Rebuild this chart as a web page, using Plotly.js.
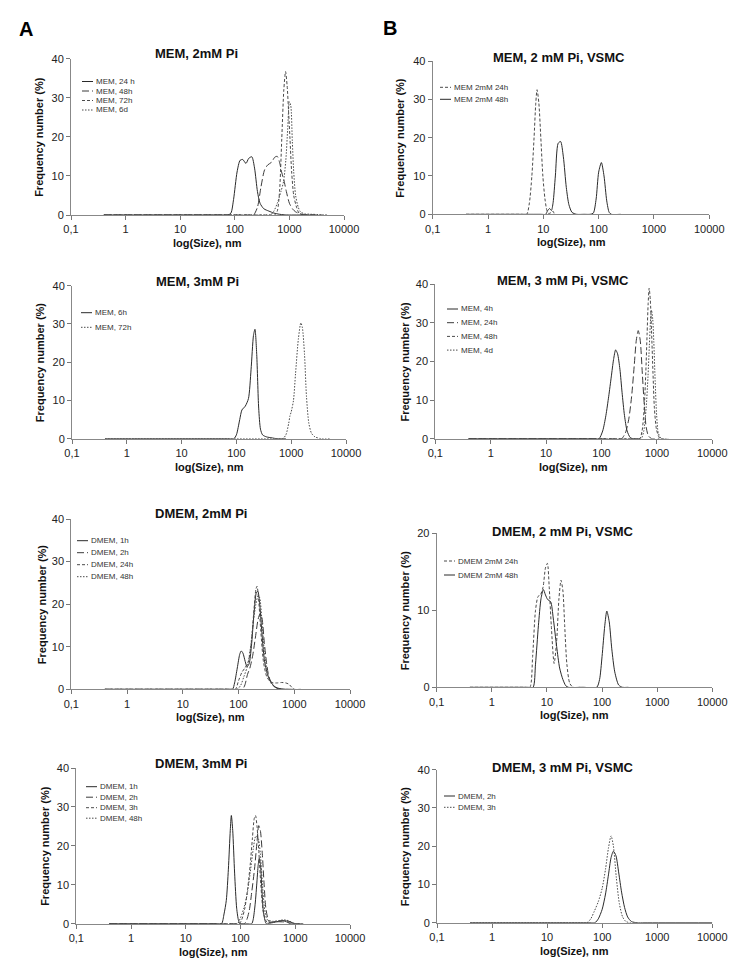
<!DOCTYPE html>
<html>
<head>
<meta charset="utf-8">
<script src="https://cdn.plot.ly/plotly-3.0.1.min.js"></script>
<style>html,body{margin:0;padding:0;background:#fff;}#chart{width:731px;height:959px;}</style>
</head>
<body>
<div id="chart"></div>
<script>
// ---------- tick labels ----------
const xTickVals = [0.1, 1, 10, 100, 1000, 10000];
const xTickText = ['0,1', '1', '10', '100', '1000', '10000'];
const yTickVals40 = [0, 10, 20, 30, 40];
const yTickVals20 = [0, 10, 20];

// ---------- panel titles ----------
const panelTitles = ['MEM, 2mM Pi', 'MEM, 3mM Pi', 'DMEM, 2mM Pi', 'DMEM, 3mM Pi',
  'MEM, 2 mM Pi, VSMC', 'MEM, 3 mM Pi, VSMC', 'DMEM, 2 mM Pi, VSMC', 'DMEM, 3 mM Pi, VSMC'];

// ---------- A1: MEM, 2mM Pi ----------
const a1Names = ['MEM, 24 h', 'MEM, 48h', 'MEM, 72h', 'MEM, 6d'];
const a1_24h_size = [0.4, 60, 75, 85, 95, 110, 125, 140, 160, 180, 205, 230, 260, 290, 340, 420, 520, 650, 800, 1000, 1500, 3000];
const a1_24h_freq = [0, 0, 0, 0.5, 4, 11, 14, 14.2, 13.2, 14.5, 14.9, 12, 6, 3, 1.6, 1, 0.5, 0.2, 0.05, 0, 0, 0];
const a1_48h_size = [0.4, 180, 220, 260, 300, 350, 400, 470, 540, 600, 660, 720, 790, 880, 1000, 1150, 1300, 1500, 1800, 2500, 4000];
const a1_48h_freq = [0, 0, 0, 2, 7, 11.5, 12.8, 13.5, 14.8, 15, 13.5, 11, 9, 6, 3, 1.5, 0.8, 0.4, 0.1, 0, 0];
const a1_72h_size = [0.4, 450, 540, 600, 660, 725, 790, 850, 910, 970, 1025, 1100, 1200, 1350, 1500, 1800, 3000];
const a1_72h_freq = [0, 0, 0, 1, 6, 19.5, 32, 36.7, 33, 26, 19.5, 11, 5, 2, 0.5, 0, 0];
const a1_6d_size = [0.4, 380, 450, 520, 600, 700, 780, 860, 930, 1000, 1060, 1130, 1200, 1300, 1450, 1600, 1900, 2500, 3500, 5000];
const a1_6d_freq = [0, 0, 0, 1, 3, 6, 8.5, 14, 22, 29, 28, 19, 11, 5, 2, 0.8, 0.3, 0.2, 0.1, 0];

// ---------- A2: MEM, 3mM Pi ----------
const a2Names = ['MEM, 6h', 'MEM, 72h'];
const a2_6h_size = [0.4, 70, 90, 100, 115, 126, 145, 166, 185, 205, 218, 235, 255, 275, 300, 350, 450, 550, 800];
const a2_6h_freq = [0, 0, 0, 1, 5, 7.5, 8.5, 10.5, 18, 27, 28.6, 22, 8, 2.5, 1, 0.5, 0.2, 0, 0];
const a2_72h_size = [0.4, 550, 700, 800, 900, 950, 1000, 1100, 1200, 1350, 1500, 1600, 1750, 1900, 2100, 2350, 2700, 3500, 5000];
const a2_72h_freq = [0, 0, 0, 1, 4, 6, 7, 10, 17, 26, 30.3, 29, 22, 11, 4, 1.4, 0.5, 0, 0];

// ---------- A3: DMEM, 2mM Pi ----------
const a3Names = ['DMEM, 1h', 'DMEM, 2h', 'DMEM, 24h', 'DMEM, 48h'];
const a3_1h_size = [0.4, 60, 78, 85, 95, 105, 112, 120, 132, 142, 155, 170, 190, 210, 222, 240, 260, 290, 330, 370, 430, 500, 700, 1000];
const a3_1h_freq = [0, 0, 0, 1.5, 5, 8.2, 9, 8.5, 6.5, 5.3, 6, 10, 18, 22.8, 23, 20, 14, 7, 3.5, 2, 0.8, 0.3, 0, 0];
const a3_2h_size = [0.4, 95, 118, 130, 145, 160, 180, 200, 225, 245, 265, 290, 320, 350, 400, 450, 550, 800];
const a3_2h_freq = [0, 0, 0, 1, 3.5, 5, 8, 12, 16.5, 17.8, 16.5, 11, 6, 3, 1.2, 0.5, 0, 0];
const a3_24h_size = [0.4, 70, 88, 100, 115, 130, 150, 170, 190, 205, 215, 230, 250, 280, 320, 370, 420, 500, 600, 700, 800, 900, 1000, 1300];
const a3_24h_freq = [0, 0, 0, 2, 4, 5, 6.5, 11, 19, 23.5, 24.2, 21, 14, 6.5, 3, 1.8, 1.5, 1.5, 1.6, 1.5, 1.2, 0.5, 0, 0];
const a3_48h_size = [0.4, 75, 95, 110, 125, 145, 165, 185, 205, 225, 240, 260, 290, 330, 380, 450, 600, 900];
const a3_48h_freq = [0, 0, 0, 1, 3, 5.5, 10, 16, 20, 22, 21.5, 17, 9, 4, 1.5, 0.5, 0, 0];

// ---------- A4: DMEM, 3mM Pi ----------
const a4Names = ['DMEM, 1h', 'DMEM, 2h', 'DMEM, 3h', 'DMEM, 48h'];
const a4_1h_size = [0.4, 35, 45, 50, 55, 60, 65, 68, 72, 78, 85, 92, 98, 130, 160, 170, 185, 200, 210, 220, 232, 245, 260, 280, 295, 400, 600, 800, 1000, 1400];
const a4_1h_freq = [0, 0, 0, 2.5, 6, 14, 24, 27.8, 24, 13, 4, 0.8, 0, 0, 0, 1, 5, 11, 15, 16.8, 15, 9, 3.5, 0.8, 0, 0.3, 0.8, 0.5, 0, 0];
const a4_2h_size = [0.4, 95, 118, 130, 145, 160, 180, 200, 215, 230, 250, 270, 290, 320, 345, 400, 500, 700, 900, 1200];
const a4_2h_freq = [0, 0, 0, 1, 3.5, 8, 14, 21, 25.2, 24, 18, 10, 4, 1, 0.3, 0.5, 0.5, 0.4, 0, 0];
const a4_3h_size = [0.4, 75, 95, 105, 120, 135, 150, 165, 178, 188, 200, 215, 235, 260, 285, 310, 400, 600, 800, 1100];
const a4_3h_freq = [0, 0, 0, 1, 4, 9, 15, 22, 27, 27.8, 25, 19, 10, 3, 1, 0.3, 0.5, 0.8, 0, 0];
const a4_48h_size = [0.4, 70, 88, 100, 115, 130, 150, 170, 190, 210, 230, 255, 280, 310, 400, 500, 650, 800, 950, 1300];
const a4_48h_freq = [0, 0, 0, 1.5, 4, 7, 13, 19, 22.5, 22, 18, 9, 3, 1, 0.6, 0.8, 1, 0.6, 0, 0];

// ---------- B1: MEM, 2 mM Pi, VSMC ----------
const b1Names = ['MEM 2mM 24h', 'MEM 2mM 48h'];
const b1_24h_size = [0.4, 4, 5, 5.6, 6.2, 6.8, 7.3, 7.7, 8.3, 9, 9.8, 10.7, 11.6, 12.5, 14, 15, 16, 20];
const b1_24h_freq = [0, 0, 0, 3, 10, 20, 29, 32.5, 29, 20, 10, 4, 1, 0.2, 0.5, 0.8, 0, 0];
const b1_48h_size = [0.4, 9, 11, 12, 13, 14, 15, 16.5, 18.5, 20.5, 23, 26, 29, 33, 40, 55, 70, 80, 90, 100, 112, 125, 140, 155, 170, 250];
const b1_48h_freq = [0, 0, 0, 1, 1.5, 1, 3, 10, 18.5, 19, 15, 7, 2.5, 0.5, 0, 0, 0, 0.3, 4, 11, 13.5, 10, 3.5, 0.5, 0, 0];

// ---------- B2: MEM, 3 mM Pi, VSMC ----------
const b2Names = ['MEM, 4h', 'MEM, 24h', 'MEM, 48h', 'MEM, 4d'];
const b2_4h_size = [0.4, 70, 90, 105, 120, 135, 150, 165, 180, 195, 215, 235, 260, 290, 330, 370, 500];
const b2_4h_freq = [0, 0, 0, 2, 6, 11, 16, 20.5, 23, 22, 18, 12, 6, 2, 0.3, 0, 0];
const b2_24h_size = [0.4, 180, 230, 270, 310, 350, 390, 425, 460, 500, 545, 590, 640, 700, 800, 1100];
const b2_24h_freq = [0, 0, 0, 1.5, 5, 11, 19, 25.5, 28, 25.5, 17, 9, 3, 0.8, 0, 0];
const b2_48h_size = [0.4, 400, 490, 540, 590, 630, 665, 695, 725, 760, 800, 850, 900, 980, 1080, 1150, 1500];
const b2_48h_freq = [0, 0, 0, 2, 8, 17, 27, 35, 39, 36, 28, 17, 8, 2.5, 0.5, 0, 0];
const b2_4d_size = [0.4, 420, 520, 580, 640, 690, 730, 770, 800, 840, 880, 930, 990, 1060, 1200, 1600];
const b2_4d_freq = [0, 0, 0, 2, 8, 16, 24, 31, 33.3, 31, 25, 15, 6, 1.5, 0, 0];

// ---------- B3: DMEM, 2 mM Pi, VSMC ----------
const b3Names = ['DMEM 2mM 24h', 'DMEM 2mM 48h'];
const b3_24h_size = [0.4, 4, 4.9, 5.5, 6.2, 6.9, 7.6, 8.5, 9.4, 10.2, 11, 12, 13.5, 15, 16.5, 18, 19.5, 21, 23, 26, 30, 40];
const b3_24h_freq = [0, 0, 0, 4, 10, 11.8, 12, 13, 15.5, 16.1, 13, 8, 3.1, 6, 11.5, 13.9, 12.5, 8, 3, 0.5, 0, 0];
const b3_48h_size = [0.4, 4.5, 5.6, 6.2, 7, 7.8, 8.6, 9.4, 10.3, 11.7, 13, 15, 17, 19.5, 22, 24.5, 45, 80, 90, 100, 112, 122, 135, 150, 170, 200, 234, 300];
const b3_48h_freq = [0, 0, 0, 3, 8, 11.5, 12.7, 12, 11.4, 11.1, 9, 5.3, 2.5, 1, 0.2, 0, 0, 0, 1, 4, 8, 9.9, 8.5, 5, 2, 0.3, 0, 0];

// ---------- B4: DMEM, 3 mM Pi, VSMC ----------
const b4Names = ['DMEM, 2h', 'DMEM, 3h'];
const b4_2h_size = [0.4, 60, 74, 85, 100, 115, 130, 145, 160, 178, 200, 225, 255, 290, 340, 425, 600, 10000];
const b4_2h_freq = [0, 0, 0, 1, 3.5, 7.5, 12.5, 17, 18.7, 17.5, 13, 8, 4, 1.5, 0.3, 0, 0, 0];
const b4_3h_size = [0.4, 42, 53, 62, 72, 85, 100, 115, 130, 145, 160, 180, 205, 235, 270, 316, 450];
const b4_3h_freq = [0, 0, 0, 1, 3, 5.5, 9, 14, 19.5, 22.7, 20, 12, 5, 1.5, 0.3, 0, 0];

// ================= drawing =================
const W = 731, H = 959;
const px = v => v / W;
const py = v => 1 - v / H;

const STY = {
  solid: {dash: 'solid', color: '#2a2a2a'},
  long:  {dash: '7px,3px', color: '#3a3a3a'},
  short: {dash: '3px,2px', color: '#4a4a4a'},
  dot:   {dash: '1.5px,1.5px', color: '#4a4a4a'}
};

// panel geometry (pixels): [x0, x1, yTop, yBottom]
const panels = [
  {box: [71, 344, 58.7, 215], ymax: 40, title: [196, 53], ytitle: 39,
   leg: {x: 82, y: 81.5, gap: 9.5},
   series: [[a1_24h_size, a1_24h_freq, a1Names[0], 'solid'], [a1_48h_size, a1_48h_freq, a1Names[1], 'long'],
            [a1_72h_size, a1_72h_freq, a1Names[2], 'short'], [a1_6d_size, a1_6d_freq, a1Names[3], 'dot']]},
  {box: [72, 346, 285.7, 438.7], ymax: 40, title: [197, 281], ytitle: 40,
   leg: {x: 81, y: 312.7, gap: 14.6},
   series: [[a2_6h_size, a2_6h_freq, a2Names[0], 'solid'], [a2_72h_size, a2_72h_freq, a2Names[1], 'dot']]},
  {box: [71.3, 350, 519, 689.3], ymax: 40, title: [201, 513], ytitle: 42,
   leg: {x: 77, y: 540.7, gap: 12},
   series: [[a3_1h_size, a3_1h_freq, a3Names[0], 'solid'], [a3_2h_size, a3_2h_freq, a3Names[1], 'long'],
            [a3_24h_size, a3_24h_freq, a3Names[2], 'short'], [a3_48h_size, a3_48h_freq, a3Names[3], 'dot']]},
  {box: [76.3, 350, 768, 923.7], ymax: 40, title: [201, 763], ytitle: 45,
   leg: {x: 86, y: 786.7, gap: 10.5},
   series: [[a4_1h_size, a4_1h_freq, a4Names[0], 'solid'], [a4_2h_size, a4_2h_freq, a4Names[1], 'long'],
            [a4_3h_size, a4_3h_freq, a4Names[2], 'short'], [a4_48h_size, a4_48h_freq, a4Names[3], 'dot']]},
  {box: [432.7, 709.3, 61, 214.3], ymax: 40, title: [559, 57], ytitle: 400,
   leg: {x: 440, y: 87.3, gap: 12},
   series: [[b1_24h_size, b1_24h_freq, b1Names[0], 'short'], [b1_48h_size, b1_48h_freq, b1Names[1], 'solid']]},
  {box: [435.3, 712.3, 284.3, 438.7], ymax: 40, title: [563, 280], ytitle: 405,
   leg: {x: 447, y: 309, gap: 13.7},
   series: [[b2_4h_size, b2_4h_freq, b2Names[0], 'solid'], [b2_24h_size, b2_24h_freq, b2Names[1], 'long'],
            [b2_48h_size, b2_48h_freq, b2Names[2], 'short'], [b2_4d_size, b2_4d_freq, b2Names[3], 'dot']]},
  {box: [436.7, 712.3, 533.3, 687.3], ymax: 20, title: [562, 531], ytitle: 405,
   leg: {x: 444, y: 561, gap: 14},
   series: [[b3_24h_size, b3_24h_freq, b3Names[0], 'short'], [b3_48h_size, b3_48h_freq, b3Names[1], 'solid']]},
  {box: [437, 712.3, 769.7, 922.7], ymax: 40, title: [562, 767], ytitle: 405,
   leg: {x: 444, y: 796, gap: 11.3},
   series: [[b4_2h_size, b4_2h_freq, b4Names[0], 'solid'], [b4_3h_size, b4_3h_freq, b4Names[1], 'dot']]}
];

const data = [];
const layout = {
  width: W, height: H,
  margin: {l: 0, r: 0, t: 0, b: 0},
  paper_bgcolor: '#fff', plot_bgcolor: '#fff',
  showlegend: false,
  font: {family: 'Liberation Sans, Arial, sans-serif', color: '#222'},
  annotations: [], shapes: []
};

const FONT = 'Liberation Sans, Arial, sans-serif';

panels.forEach((p, i) => {
  const n = i + 1;
  const xa = 'xaxis' + (n === 1 ? '' : n), ya = 'yaxis' + (n === 1 ? '' : n);
  const xr = 'x' + (n === 1 ? '' : n), yr = 'y' + (n === 1 ? '' : n);
  const [x0, x1, yt, yb] = p.box;
  layout[xa] = {
    type: 'log', range: [-1, 4], domain: [px(x0), px(x1)], anchor: yr,
    tickvals: xTickVals, ticktext: xTickText, ticks: 'outside', ticklen: 4, tickcolor: '#777',
    showline: true, linecolor: '#888', linewidth: 1, showgrid: false, zeroline: false,
    tickfont: {family: FONT, size: 11, color: '#222'}, fixedrange: true
  };
  layout[ya] = {
    range: [0, p.ymax], domain: [py(yb), py(yt)], anchor: xr,
    tickvals: p.ymax === 20 ? yTickVals20 : yTickVals40, ticks: 'outside', ticklen: 4, tickcolor: '#777',
    showline: true, linecolor: '#888', linewidth: 1, showgrid: false, zeroline: false,
    tickfont: {family: FONT, size: 11, color: '#222'}, fixedrange: true
  };
  p.series.forEach(s => {
    const st = STY[s[3]];
    data.push({
      type: 'scatter', mode: 'lines', x: s[0], y: s[1], name: s[2],
      xaxis: xr, yaxis: yr,
      line: {color: st.color, width: 1, dash: st.dash, shape: 'spline', smoothing: 0.7},
      hoverinfo: 'skip'
    });
  });
  // panel title
  layout.annotations.push({text: '<b>' + panelTitles[i] + '</b>', xref: 'paper', yref: 'paper',
    x: px(p.title[0]), y: py(p.title[1]), xanchor: 'center', yanchor: 'middle', showarrow: false,
    font: {family: FONT, size: 13, color: '#111'}});
  // y title
  layout.annotations.push({text: '<b>Frequency number (%)</b>', xref: 'paper', yref: 'paper',
    x: px(p.ytitle), y: py((yt + yb) / 2), xanchor: 'center', yanchor: 'middle', textangle: -90,
    showarrow: false, font: {family: FONT, size: 11, color: '#111'}});
  // x title (28 px below the x axis)
  layout.annotations.push({text: '<b>log(Size), nm</b>', xref: 'paper', yref: 'paper',
    x: px((x0 + x1) / 2), y: py(yb + 28), xanchor: 'center', yanchor: 'middle',
    showarrow: false, font: {family: FONT, size: 11, color: '#111'}});
  // legend (custom, compact)
  p.series.forEach((s, k) => {
    const st = STY[s[3]];
    const yy = p.leg.y + k * p.leg.gap;
    layout.shapes.push({type: 'line', xref: 'paper', yref: 'paper',
      x0: px(p.leg.x), x1: px(p.leg.x + 11), y0: py(yy), y1: py(yy),
      line: {color: st.color, width: 1, dash: st.dash}});
    layout.annotations.push({text: s[2], xref: 'paper', yref: 'paper',
      x: px(p.leg.x + 12), y: py(yy), xanchor: 'left', yanchor: 'middle', showarrow: false,
      font: {family: FONT, size: 8, color: '#333'}});
  });
});

// panel letters
layout.annotations.push({text: '<b>A</b>', xref: 'paper', yref: 'paper', x: px(26), y: py(29),
  xanchor: 'center', yanchor: 'middle', showarrow: false, font: {family: FONT, size: 20, color: '#000'}});
layout.annotations.push({text: '<b>B</b>', xref: 'paper', yref: 'paper', x: px(390), y: py(28),
  xanchor: 'center', yanchor: 'middle', showarrow: false, font: {family: FONT, size: 20, color: '#000'}});

Plotly.newPlot('chart', data, layout, {staticPlot: true, displayModeBar: false});
</script>
</body>
</html>
